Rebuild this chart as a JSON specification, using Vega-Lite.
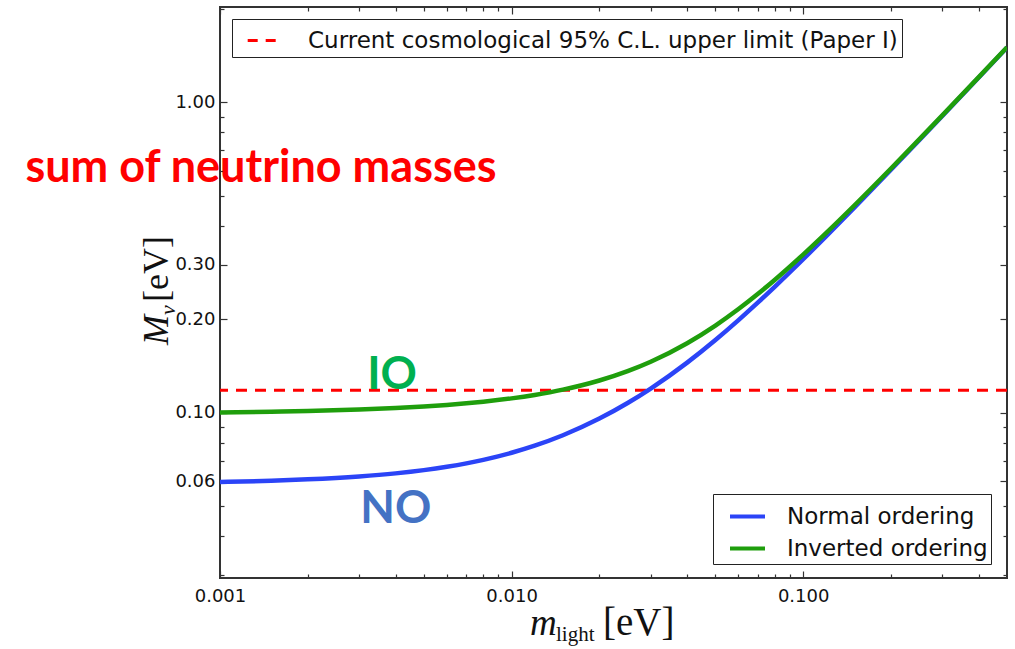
{
  "$schema": "https://vega.github.io/schema/vega-lite/v6.json",
  "width": 787,
  "height": 571,
  "autosize": {"type": "none"},
  "padding": {"left": 220, "top": 7, "right": 8, "bottom": 71},
  "background": "white",
  "config": {
    "view": {"stroke": "#333333", "strokeWidth": 2},
    "axis": {"grid": false, "domain": false, "labelFont": "DejaVu Sans", "labelFontSize": 18, "labelColor": "#111111", "tickColor": "#333333", "tickWidth": 1.2, "title": null, "labelFlush": false},
    "legend": {"labelFont": "DejaVu Sans", "labelFontSize": 23, "labelColor": "#111111", "strokeColor": "#222222", "fillColor": "white", "cornerRadius": 0, "title": null, "labelLimit": 1000}
  },
  "datasets": {
    "one": [{}],
    "curves": [
      {"m": 0.001, "M": 0.05973, "ordering": "Normal ordering"},
      {"m": 0.0015, "M": 0.06031, "ordering": "Normal ordering"},
      {"m": 0.002, "M": 0.06093, "ordering": "Normal ordering"},
      {"m": 0.003, "M": 0.06226, "ordering": "Normal ordering"},
      {"m": 0.004, "M": 0.0637, "ordering": "Normal ordering"},
      {"m": 0.005, "M": 0.06525, "ordering": "Normal ordering"},
      {"m": 0.006, "M": 0.0669, "ordering": "Normal ordering"},
      {"m": 0.007, "M": 0.06862, "ordering": "Normal ordering"},
      {"m": 0.008, "M": 0.07043, "ordering": "Normal ordering"},
      {"m": 0.01, "M": 0.07422, "ordering": "Normal ordering"},
      {"m": 0.012, "M": 0.07822, "ordering": "Normal ordering"},
      {"m": 0.015, "M": 0.08452, "ordering": "Normal ordering"},
      {"m": 0.02, "M": 0.09565, "ordering": "Normal ordering"},
      {"m": 0.025, "M": 0.10736, "ordering": "Normal ordering"},
      {"m": 0.03, "M": 0.11954, "ordering": "Normal ordering"},
      {"m": 0.04, "M": 0.14496, "ordering": "Normal ordering"},
      {"m": 0.05, "M": 0.17146, "ordering": "Normal ordering"},
      {"m": 0.06, "M": 0.19872, "ordering": "Normal ordering"},
      {"m": 0.07, "M": 0.22656, "ordering": "Normal ordering"},
      {"m": 0.08, "M": 0.25481, "ordering": "Normal ordering"},
      {"m": 0.1, "M": 0.31218, "ordering": "Normal ordering"},
      {"m": 0.12, "M": 0.37031, "ordering": "Normal ordering"},
      {"m": 0.15, "M": 0.45836, "ordering": "Normal ordering"},
      {"m": 0.2, "M": 0.60634, "ordering": "Normal ordering"},
      {"m": 0.25, "M": 0.7551, "ordering": "Normal ordering"},
      {"m": 0.3, "M": 0.90426, "ordering": "Normal ordering"},
      {"m": 0.4, "M": 1.20321, "ordering": "Normal ordering"},
      {"m": 0.5, "M": 1.50257, "ordering": "Normal ordering"},
      {"m": 0.001, "M": 0.10016, "ordering": "Inverted ordering"},
      {"m": 0.0015, "M": 0.10069, "ordering": "Inverted ordering"},
      {"m": 0.002, "M": 0.10122, "ordering": "Inverted ordering"},
      {"m": 0.003, "M": 0.10233, "ordering": "Inverted ordering"},
      {"m": 0.004, "M": 0.10347, "ordering": "Inverted ordering"},
      {"m": 0.005, "M": 0.10465, "ordering": "Inverted ordering"},
      {"m": 0.006, "M": 0.10587, "ordering": "Inverted ordering"},
      {"m": 0.007, "M": 0.10713, "ordering": "Inverted ordering"},
      {"m": 0.008, "M": 0.10843, "ordering": "Inverted ordering"},
      {"m": 0.01, "M": 0.11114, "ordering": "Inverted ordering"},
      {"m": 0.012, "M": 0.11401, "ordering": "Inverted ordering"},
      {"m": 0.015, "M": 0.11858, "ordering": "Inverted ordering"},
      {"m": 0.02, "M": 0.12691, "ordering": "Inverted ordering"},
      {"m": 0.025, "M": 0.13604, "ordering": "Inverted ordering"},
      {"m": 0.03, "M": 0.14589, "ordering": "Inverted ordering"},
      {"m": 0.04, "M": 0.1674, "ordering": "Inverted ordering"},
      {"m": 0.05, "M": 0.19082, "ordering": "Inverted ordering"},
      {"m": 0.06, "M": 0.21566, "ordering": "Inverted ordering"},
      {"m": 0.07, "M": 0.24155, "ordering": "Inverted ordering"},
      {"m": 0.08, "M": 0.26823, "ordering": "Inverted ordering"},
      {"m": 0.1, "M": 0.32323, "ordering": "Inverted ordering"},
      {"m": 0.12, "M": 0.37967, "ordering": "Inverted ordering"},
      {"m": 0.15, "M": 0.46596, "ordering": "Inverted ordering"},
      {"m": 0.2, "M": 0.6121, "ordering": "Inverted ordering"},
      {"m": 0.25, "M": 0.75974, "ordering": "Inverted ordering"},
      {"m": 0.3, "M": 0.90814, "ordering": "Inverted ordering"},
      {"m": 0.4, "M": 1.20612, "ordering": "Inverted ordering"},
      {"m": 0.5, "M": 1.5049, "ordering": "Inverted ordering"}
    ]
  },
  "layer": [
    {
      "data": {"name": "one"},
      "mark": {"type": "rule", "strokeWidth": 3, "strokeDash": [11, 8]},
      "encoding": {
        "y": {"datum": 0.118, "type": "quantitative", "axis": null},
        "color": {"datum": "Current cosmological 95% C.L. upper limit (Paper I)", "type": "nominal",
          "scale": {"range": ["#ff0000"]},
          "legend": {"orient": "none", "legendX": 12, "legendY": 12, "symbolType": "stroke", "symbolSize": 1000, "symbolStrokeWidth": 3, "symbolDash": [10, 8], "symbolOffset": 10, "padding": 4, "labelOffset": 27}}
      }
    },
    {
      "data": {"name": "curves"},
      "mark": {"type": "line", "strokeWidth": 4.5, "interpolate": "monotone", "clip": true},
      "encoding": {
        "x": {"field": "m", "type": "quantitative",
          "scale": {"type": "log", "domain": [0.001, 0.5], "nice": false},
          "axis": {"orient": "bottom", "values": [0.001, 0.01, 0.1], "format": ".3f", "tickSize": -7, "labelPadding": 16}},
        "y": {"field": "M", "type": "quantitative",
          "scale": {"type": "log", "domain": [0.0293, 2.03], "nice": false},
          "axis": {"orient": "left", "values": [0.06, 0.1, 0.2, 0.3, 1], "format": ".2f", "tickSize": -7, "labelPadding": 12}},
        "color": {"field": "ordering", "type": "nominal",
          "scale": {"domain": ["Normal ordering", "Inverted ordering"], "range": ["#2b44f7", "#1f9e0c"]},
          "legend": {"orient": "none", "legendX": 493, "legendY": 487, "symbolType": "stroke", "symbolSize": 1225, "symbolStrokeWidth": 4, "symbolOffset": 12, "padding": 3, "rowPadding": 0, "labelOffset": 20}}
      }
    },
    {
      "data": {"name": "one"},
      "mark": {"type": "text", "text": "IO", "font": "Lato", "fontWeight": "bold", "fontSize": 45, "color": "#00b050", "align": "center", "baseline": "middle"},
      "encoding": {
        "x": {"datum": 0.00389, "type": "quantitative", "axis": {"orient": "top", "values": [0.001, 0.01, 0.1], "labels": false, "tickSize": -7}},
        "y": {"datum": 0.1323, "type": "quantitative", "axis": {"orient": "right", "values": [0.06, 0.1, 0.2, 0.3, 1], "labels": false, "tickSize": -7}}
      }
    },
    {
      "data": {"name": "one"},
      "mark": {"type": "text", "text": "NO", "font": "Lato", "fontWeight": "bold", "fontSize": 45, "color": "#4472c4", "align": "center", "baseline": "middle"},
      "encoding": {
        "x": {"datum": 0.00401, "type": "quantitative", "axis": {"orient": "top", "values": [0.002, 0.003, 0.004, 0.005, 0.006, 0.007, 0.008, 0.009, 0.02, 0.03, 0.04, 0.05, 0.06, 0.07, 0.08, 0.09, 0.2, 0.3, 0.4], "labels": false, "tickSize": -4}},
        "y": {"datum": 0.0489, "type": "quantitative", "axis": {"orient": "right", "values": [0.03, 0.04, 0.05, 0.07, 0.08, 0.09, 0.4, 0.5, 0.6, 0.7, 0.8, 0.9, 2], "labels": false, "tickSize": -4}}
      }
    },
    {
      "data": {"name": "one"},
      "mark": {"type": "text", "text": "sum of neutrino masses", "font": "Lato", "fontWeight": "bold", "fontSize": 45, "color": "#ff0000", "align": "center", "baseline": "middle"},
      "encoding": {
        "x": {"datum": 0.001382, "type": "quantitative", "axis": {"orient": "bottom", "values": [0.002, 0.003, 0.004, 0.005, 0.006, 0.007, 0.008, 0.009, 0.02, 0.03, 0.04, 0.05, 0.06, 0.07, 0.08, 0.09, 0.2, 0.3, 0.4], "labels": false, "tickSize": -4}},
        "y": {"datum": 0.6142, "type": "quantitative", "axis": {"orient": "left", "values": [0.03, 0.04, 0.05, 0.07, 0.08, 0.09, 0.4, 0.5, 0.6, 0.7, 0.8, 0.9, 2], "labels": false, "tickSize": -4}}
      }
    },
    {
      "data": {"name": "one"},
      "mark": {"type": "text", "text": "m", "font": "Liberation Serif", "fontStyle": "italic", "fontSize": 37, "color": "#111111", "align": "left", "baseline": "alphabetic"},
      "encoding": {
        "x": {"datum": 0.011566, "type": "quantitative", "axis": null},
        "y": {"datum": 0.01922, "type": "quantitative", "axis": null}
      }
    },
    {
      "data": {"name": "one"},
      "mark": {"type": "text", "text": "light", "font": "Liberation Serif", "fontSize": 21, "color": "#111111", "align": "left", "baseline": "alphabetic"},
      "encoding": {
        "x": {"datum": 0.014203, "type": "quantitative", "axis": null},
        "y": {"datum": 0.01839, "type": "quantitative", "axis": null}
      }
    },
    {
      "data": {"name": "one"},
      "mark": {"type": "text", "text": "[eV]", "font": "Liberation Serif", "fontSize": 39, "color": "#111111", "align": "left", "baseline": "alphabetic"},
      "encoding": {
        "x": {"datum": 0.020583, "type": "quantitative", "axis": null},
        "y": {"datum": 0.01922, "type": "quantitative", "axis": null}
      }
    },
    {
      "data": {"name": "one"},
      "mark": {"type": "text", "text": "M", "font": "Liberation Serif", "fontStyle": "italic", "fontSize": 36, "color": "#111111", "align": "left", "baseline": "alphabetic", "angle": 270},
      "encoding": {
        "x": {"datum": 0.000663, "type": "quantitative", "axis": null},
        "y": {"datum": 0.1652, "type": "quantitative", "axis": null}
      }
    },
    {
      "data": {"name": "one"},
      "mark": {"type": "text", "text": "ν", "font": "Liberation Serif", "fontStyle": "italic", "fontSize": 22, "color": "#111111", "align": "left", "baseline": "alphabetic", "angle": 270},
      "encoding": {
        "x": {"datum": 0.000701, "type": "quantitative", "axis": null},
        "y": {"datum": 0.2064, "type": "quantitative", "axis": null}
      }
    },
    {
      "data": {"name": "one"},
      "mark": {"type": "text", "text": "[eV]", "font": "Liberation Serif", "fontSize": 36, "color": "#111111", "align": "left", "baseline": "alphabetic", "angle": 270},
      "encoding": {
        "x": {"datum": 0.000663, "type": "quantitative", "axis": null},
        "y": {"datum": 0.2273, "type": "quantitative", "axis": null}
      }
    }
  ],
  "resolve": {"scale": {"color": "independent"}, "axis": {"x": "independent", "y": "independent"}}
}
